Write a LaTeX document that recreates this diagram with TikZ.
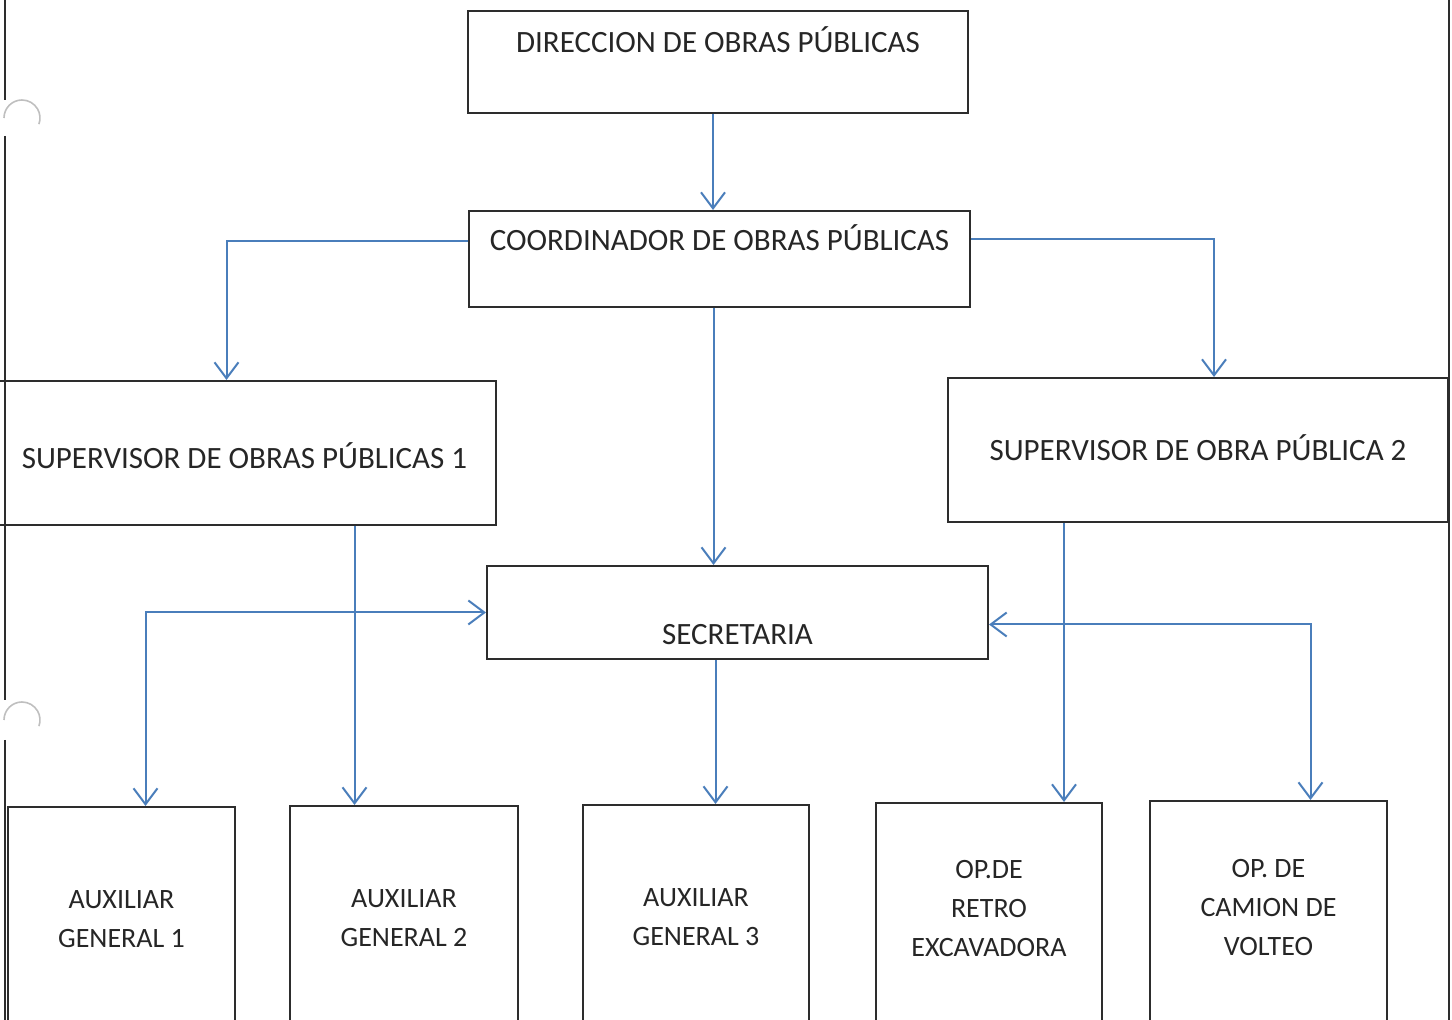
\documentclass[tikz,border=0pt]{standalone}
\usepackage{fontspec}
\setmainfont{Carlito}
\usepackage{tikz}
\usetikzlibrary{positioning,arrows.meta,calc}
\definecolor{azulflecha}{RGB}{74,126,187}
\definecolor{bordegris}{RGB}{45,45,45}

\begin{document}
\begin{tikzpicture}[
          x=0.5pt,y=-0.5pt,
          puesto/.style={draw=bordegris,line width=1pt,inner sep=0pt,anchor=north,
            text=black!85,font=\fontsize{15.5}{19}\selectfont},
          base/.style={draw=bordegris,line width=1pt,anchor=north,minimum height=125pt},
          rotulo/.style={align=center,inner sep=0pt,text=black!85,
            font=\fontsize{14}{19.5}\selectfont},
          flecha/.style={draw=azulflecha,line width=1pt,-{Straight Barb[length=8pt,width=12pt]}},
          doble/.style={flecha,{Straight Barb[length=8pt,width=12pt]}-{Straight Barb[length=8pt,width=12pt]}}
          ]
          \useasboundingbox (0,0) rectangle (1452,1020);
          \clip (0,0) rectangle (1452,1020);

          % the page edges
          \draw[bordegris,line width=1pt] (5,0) -- (5,100) (5,136) -- (5,700) (5,740) -- (5,1020);
          \draw[bordegris,line width=1pt] (1449,0) -- (1449,1020);
          \draw[black!25,line width=0.8pt] (4,118) arc[start angle=180,end angle=380,radius=18];
          \draw[black!25,line width=0.8pt] (4,720) arc[start angle=180,end angle=380,radius=18];

          % the upper boxes
          \node[puesto,minimum width=250pt,text height=21pt,text depth=30pt] (dir) at (718,10) {DIRECCION DE OBRAS PÚBLICAS};
          \node[puesto,minimum width=250.5pt,text height=20pt,text depth=28pt] (coord) at (719.5,210) {COORDINADOR DE OBRAS PÚBLICAS};
          \node[puesto,minimum width=251.5pt,text height=44pt,text depth=28pt] (sup1) at (244.5,380) {SUPERVISOR DE OBRAS PÚBLICAS 1};
          \node[puesto,minimum width=250pt,text height=41.5pt,text depth=30.5pt] (sup2) at (1198,377) {SUPERVISOR DE OBRA PÚBLICA 2};
          \node[puesto,minimum width=250.5pt,text height=39.5pt,text depth=7pt] (sec) at (737.5,565) {SECRETARIA};

          % the lower boxes
          \node[base,minimum width=113.5pt] (aux1) at (121.5,806) {};
          \node[base,minimum width=114pt] (aux2) at (404,805) {};
          \node[base,minimum width=113pt] (aux3) at (696,804) {};
          \node[base,minimum width=113pt] (retro) at (989,802) {};
          \node[base,minimum width=118.5pt] (camion) at (1268.5,800) {};
          \node[rotulo,below=42pt of aux1.north] (aux1t) {AUXILIAR\\GENERAL 1};
          \node[rotulo,below=42pt of aux2.north] (aux2t) {AUXILIAR\\GENERAL 2};
          \node[rotulo,below=42pt of aux3.north] (aux3t) {AUXILIAR\\GENERAL 3};
          \node[rotulo,below=29pt of retro.north] (retrot) {OP.DE\\RETRO\\EXCAVADORA};
          \node[rotulo,below=29.5pt of camion.north] (camiont) {OP. DE\\CAMION DE\\VOLTEO};

          % the arrows
          \draw[flecha] ([xshift=-2.5pt]dir.south) -- ([xshift=-2.5pt]dir.south |- coord.north);
          \draw[flecha] ([yshift=9pt]coord.west) -| ([xshift=-9pt]sup1.north);
          \draw[flecha] ([yshift=10pt]coord.east) -| ([xshift=8pt]sup2.north);
          \draw[flecha] ([xshift=-3pt]coord.south) -- ([xshift=-3pt]coord.south |- sec.north);
          \draw[flecha] ([xshift=55pt]sup1.south) -- ([xshift=55pt]sup1.south |- aux2.north);
          \draw[doble] ([xshift=12pt]aux1.north) |- (sec.west);
          \draw[flecha] ([xshift=-11pt]sec.south) -- ([xshift=-11pt]sec.south |- aux3.north);
          \draw[flecha] ([xshift=-67pt]sup2.south) -- ([xshift=-67pt]sup2.south |- retro.north);
          \draw[doble] ([yshift=-6pt]sec.east) -| ([xshift=21pt]camion.north);
        \end{tikzpicture}
\end{document}
